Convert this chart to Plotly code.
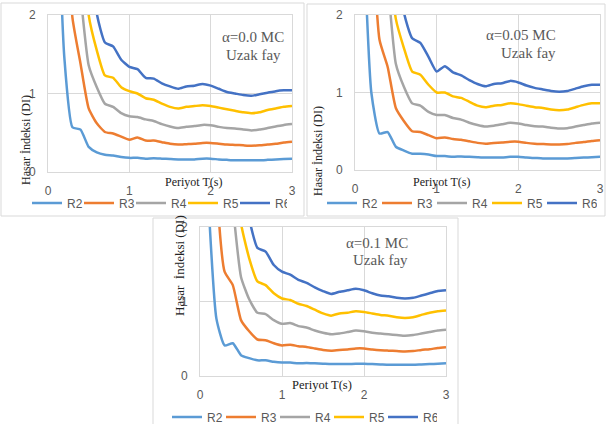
import plotly.graph_objects as go

T = [0.1, 0.2, 0.3, 0.4, 0.5, 0.6, 0.7, 0.8, 0.9, 1.0,
     1.1, 1.2, 1.3, 1.4, 1.5, 1.6, 1.7, 1.8, 1.9, 2.0,
     2.1, 2.2, 2.3, 2.4, 2.5, 2.6, 2.7, 2.8, 2.9, 3.0]

series_names = ["R2", "R3", "R4", "R5", "R6"]
colors = ["#5B9BD5", "#ED7D31", "#A5A5A5", "#FFC000", "#4472C4"]

# alpha = 0.0
a00_R2 = [4.10, 1.47, 0.57, 0.54, 0.32, 0.25, 0.22, 0.21, 0.19, 0.18,
          0.18, 0.17, 0.175, 0.17, 0.165, 0.16, 0.16, 0.16, 0.17, 0.17,
          0.16, 0.155, 0.15, 0.15, 0.15, 0.15, 0.155, 0.16, 0.165, 0.17]
a00_R3 = [6.00, 4.00, 1.97, 1.38, 0.81, 0.62, 0.51, 0.49, 0.45, 0.41,
          0.44, 0.40, 0.40, 0.38, 0.36, 0.35, 0.355, 0.36, 0.37, 0.37,
          0.36, 0.35, 0.345, 0.34, 0.335, 0.34, 0.35, 0.36, 0.375, 0.385]
a00_R4 = [8.00, 5.00, 3.50, 2.27, 1.36, 1.08, 0.87, 0.83, 0.75, 0.71,
          0.70, 0.67, 0.65, 0.61, 0.58, 0.56, 0.575, 0.585, 0.60, 0.595,
          0.575, 0.56, 0.555, 0.54, 0.53, 0.54, 0.56, 0.58, 0.60, 0.61]
a00_R5 = [9.00, 6.00, 4.50, 3.50, 2.00, 1.55, 1.23, 1.20, 1.08, 1.03,
          1.00, 0.94, 0.92, 0.87, 0.83, 0.81, 0.83, 0.84, 0.85, 0.84,
          0.82, 0.80, 0.78, 0.76, 0.75, 0.76, 0.79, 0.81, 0.83, 0.84]
a00_R6 = [10.0, 7.00, 5.00, 4.50, 3.50, 2.02, 1.65, 1.60, 1.43, 1.34,
          1.31, 1.20, 1.19, 1.13, 1.09, 1.06, 1.09, 1.10, 1.12, 1.10,
          1.06, 1.02, 1.00, 0.98, 0.97, 0.99, 1.01, 1.03, 1.04, 1.04]

# alpha = 0.05
a05_R2 = [3.20, 1.00, 0.47, 0.49, 0.30, 0.25, 0.21, 0.21, 0.20, 0.18,
          0.18, 0.17, 0.175, 0.17, 0.165, 0.16, 0.16, 0.16, 0.17, 0.17,
          0.16, 0.155, 0.15, 0.15, 0.15, 0.15, 0.155, 0.16, 0.165, 0.17]
a05_R3 = [6.00, 3.30, 1.68, 1.33, 0.80, 0.63, 0.50, 0.49, 0.45, 0.41,
          0.42, 0.40, 0.39, 0.37, 0.35, 0.34, 0.35, 0.355, 0.365, 0.365,
          0.35, 0.34, 0.335, 0.33, 0.33, 0.335, 0.35, 0.36, 0.375, 0.385]
a05_R4 = [8.00, 5.00, 3.50, 2.42, 1.37, 1.07, 0.86, 0.83, 0.75, 0.71,
          0.71, 0.67, 0.65, 0.61, 0.58, 0.56, 0.57, 0.59, 0.61, 0.60,
          0.58, 0.565, 0.56, 0.545, 0.535, 0.54, 0.56, 0.58, 0.60, 0.61]
a05_R5 = [9.00, 6.00, 4.50, 3.00, 1.95, 1.57, 1.27, 1.23, 1.10, 1.00,
          1.00, 0.95, 0.93, 0.88, 0.83, 0.81, 0.83, 0.84, 0.86, 0.85,
          0.83, 0.81, 0.80, 0.78, 0.77, 0.78, 0.81, 0.84, 0.86, 0.86]
a05_R6 = [10.0, 7.00, 5.00, 4.50, 3.50, 2.03, 1.70, 1.64, 1.46, 1.27,
          1.34, 1.26, 1.22, 1.16, 1.11, 1.08, 1.11, 1.12, 1.15, 1.13,
          1.09, 1.06, 1.04, 1.02, 1.01, 1.02, 1.05, 1.08, 1.10, 1.10]

# alpha = 0.1
a10_R2 = [2.40, 0.77, 0.41, 0.44, 0.28, 0.24, 0.21, 0.21, 0.19, 0.18,
          0.18, 0.17, 0.175, 0.17, 0.165, 0.16, 0.16, 0.16, 0.165, 0.165,
          0.16, 0.155, 0.15, 0.15, 0.15, 0.15, 0.155, 0.16, 0.165, 0.17]
a10_R3 = [6.00, 2.60, 1.40, 1.22, 0.75, 0.60, 0.49, 0.48, 0.44, 0.41,
          0.42, 0.40, 0.39, 0.37, 0.35, 0.34, 0.35, 0.355, 0.37, 0.37,
          0.355, 0.345, 0.34, 0.335, 0.33, 0.335, 0.35, 0.36, 0.375, 0.385]
a10_R4 = [8.00, 5.00, 3.50, 2.29, 1.33, 1.03, 0.85, 0.83, 0.75, 0.70,
          0.71, 0.67, 0.65, 0.61, 0.58, 0.56, 0.57, 0.59, 0.61, 0.60,
          0.58, 0.57, 0.56, 0.55, 0.54, 0.55, 0.57, 0.59, 0.61, 0.62]
a10_R5 = [9.00, 6.00, 4.50, 3.50, 2.05, 1.58, 1.27, 1.22, 1.11, 1.04,
          1.02, 0.97, 0.94, 0.89, 0.84, 0.81, 0.84, 0.85, 0.87, 0.86,
          0.84, 0.82, 0.81, 0.79, 0.78, 0.79, 0.82, 0.85, 0.87, 0.88]
a10_R6 = [10.0, 7.00, 5.00, 4.50, 3.50, 2.12, 1.72, 1.67, 1.49, 1.40,
          1.36, 1.29, 1.25, 1.19, 1.14, 1.10, 1.13, 1.15, 1.17, 1.15,
          1.11, 1.08, 1.07, 1.05, 1.04, 1.05, 1.08, 1.11, 1.14, 1.15]

panel_labels = ["\u03b1=0.0 MC", "\u03b1=0.05 MC", "\u03b1=0.1 MC"]
y_titles = ["Hasar \u0130ndeksi (DI)", "Hasar \u0130ndeksi (DI)", "Hasar  \u0130ndeksi (DI)"]
x_title = "Periyot T(s)"
panel_data = [
    [a00_R2, a00_R3, a00_R4, a00_R5, a00_R6],
    [a05_R2, a05_R3, a05_R4, a05_R5, a05_R6],
    [a10_R2, a10_R3, a10_R4, a10_R5, a10_R6],
]
x_ticks = [0, 1, 2, 3]
y_ticks = [0, 1, 2]

W, H = 610, 424
def px(x): return x / W
def py(y): return 1 - y / H

# plot areas in pixels (left, right, top, bottom)
areas = [(48, 292, 15, 172), (355, 600, 15, 170), (200, 446, 227, 376)]
# panel frames in pixels
frames = [(1, 304, 3, 216), (307, 605, 4, 216), (153, 458, 218, 426)]
legend_pos = [(27, 203), (322, 203), (167, 417)]
legend_entry = [7, 10, 9]
label_pos = [(253, 27, 45), (558, 25, 43), (410, 243, 260)]
ytitle_pos = [(17, 93, 12), (318, 104, 12), (170, 318, 13)]
xtitle_pos = [(163, 182, 12), (472, 182, 12), (322, 394, 12.5)]

GRID = "#D9D9D9"
TXT = "#595959"
SERIF = "Liberation Serif"
SANS = "Liberation Sans"

fig = go.Figure()
layout = {}
annotations = []
shapes = []

for i in range(3):
    xa = "x" if i == 0 else f"x{i+1}"
    ya = "y" if i == 0 else f"y{i+1}"
    lg = "legend" if i == 0 else f"legend{i+1}"
    for j, name in enumerate(series_names):
        fig.add_trace(go.Scatter(
            x=T, y=panel_data[i][j], name=name, mode="lines",
            line=dict(color=colors[j], width=2.5, shape="spline", smoothing=0.5),
            xaxis=xa, yaxis=ya, legend=lg, hoverinfo="skip"))
    l, r, t, b = areas[i]
    key_x = "xaxis" if i == 0 else f"xaxis{i+1}"
    key_y = "yaxis" if i == 0 else f"yaxis{i+1}"
    layout[key_x] = dict(domain=[px(l), px(r)], anchor=ya, range=[0, 3],
                         tickvals=x_ticks, showgrid=True, gridcolor=GRID, gridwidth=1,
                         showline=True, linecolor=GRID, mirror=True, zeroline=False,
                         ticks="", ticklabelstandoff=8, automargin=False,
                         tickfont=dict(family=SANS, size=12, color=TXT), fixedrange=True)
    layout[key_y] = dict(domain=[py(b), py(t)], anchor=xa, range=[0, 2],
                         tickvals=y_ticks, showgrid=True, gridcolor=GRID, gridwidth=1,
                         showline=True, linecolor=GRID, mirror=True, zeroline=False,
                         ticks="", ticklabelstandoff=9, automargin=False,
                         tickfont=dict(family=SANS, size=12, color=TXT), fixedrange=True)
    lx, ly = legend_pos[i]
    layout[lg] = dict(orientation="h", x=px(lx), y=py(ly), xanchor="left", yanchor="middle",
                      entrywidth=legend_entry[i], entrywidthmode="pixels",
                      font=dict(family=SANS, size=12, color=TXT),
                      bgcolor="rgba(0,0,0,0)", tracegroupgap=0, itemwidth=30)
    cx, y1, y2 = label_pos[i]
    annotations.append(dict(x=px(cx), y=py(y1), xref="paper", yref="paper",
                            text=panel_labels[i], showarrow=False,
                            font=dict(family=SERIF, size=15, color=TXT)))
    annotations.append(dict(x=px(cx), y=py(y2), xref="paper", yref="paper",
                            text="Uzak fay", showarrow=False,
                            font=dict(family=SERIF, size=15, color=TXT)))
    yx, yy, ys = ytitle_pos[i]
    annotations.append(dict(x=px(yx), y=py(yy), xref="paper", yref="paper",
                            text=y_titles[i].replace("  ", "&nbsp; "), showarrow=False, textangle=-90,
                            font=dict(family=SERIF, size=ys, color="#222222")))
    tx, ty, ts = xtitle_pos[i]
    annotations.append(dict(x=px(tx), y=py(ty), xref="paper", yref="paper",
                            text=x_title, showarrow=False,
                            font=dict(family=SERIF, size=ts, color="#222222")))
    fl, fr, ft, fb = frames[i]
    shapes.append(dict(type="rect", xref="paper", yref="paper",
                       x0=px(fl), x1=px(fr), y0=py(fb), y1=py(ft),
                       line=dict(color="#D9D9D9", width=1), layer="below"))

fig.update_layout(**layout)
fig.update_layout(width=W, height=H, margin=dict(l=0, r=0, t=0, b=0, autoexpand=False),
                  paper_bgcolor="white", plot_bgcolor="white",
                  annotations=annotations, shapes=shapes, showlegend=True)

fig.write_html("out.html", config={"displayModeBar": False})
